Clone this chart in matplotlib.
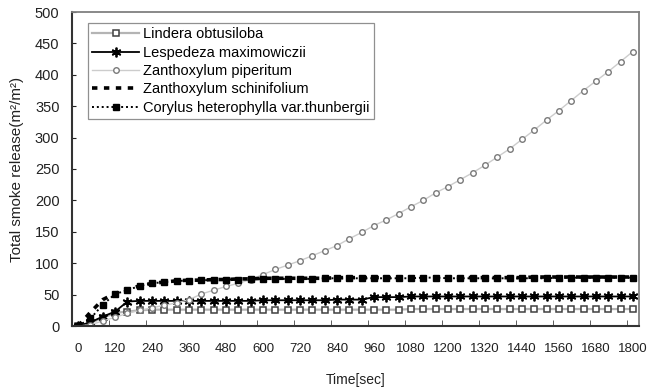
import numpy as np
import matplotlib.pyplot as plt

plt.rcParams['font.family'] = ['Liberation Sans', 'DejaVu Sans']

# measurements every 40 s
time_sec = np.arange(0, 1801, 40)

lindera = [0, 5, 13, 21, 23, 25, 26, 26, 26, 26, 26, 26, 26, 26, 26, 26,
           26, 26, 26, 26, 26, 26, 26, 26, 26, 26, 26, 27, 27, 27, 27, 27,
           27, 27, 27, 27, 27, 27, 27, 27, 27, 27, 27, 27, 27, 27]

lespedeza = [0, 6, 15, 23, 39, 40, 40, 40, 40, 40, 40, 40, 40, 40, 40, 41,
             41, 41, 41, 41, 41, 42, 42, 42, 46, 46, 46, 47, 47, 47, 47, 47,
             47, 47, 47, 47, 47, 47, 47, 47, 47, 47, 47, 47, 47, 47]

piperitum = [0, 2, 8, 14, 20, 25, 29, 33, 37, 42, 51, 57, 63, 68, 74, 82,
             90, 97, 104, 112, 120, 128, 139, 149, 160, 169, 179, 190, 200, 212, 222, 233,
             244, 256, 269, 282, 297, 312, 328, 343, 359, 375, 390, 405, 421, 437]

schinifolium = [0, 22, 42, 52, 58, 64, 68, 70, 72, 73, 73, 74, 74, 75, 75, 76,
                76, 76, 76, 76, 76, 77, 77, 77, 77, 77, 77, 77, 78, 78, 78, 77,
                77, 77, 77, 77, 77, 78, 78, 78, 78, 78, 78, 78, 78, 78]

corylus = [0, 12, 34, 51, 57, 64, 68, 70, 72, 72, 73, 73, 74, 74, 75, 75,
           75, 75, 75, 75, 76, 76, 76, 76, 76, 76, 76, 76, 77, 77, 76, 76,
           76, 76, 76, 76, 76, 76, 76, 77, 77, 77, 77, 77, 77, 77]

names = ['Lindera obtusiloba', 'Lespedeza maximowiczii', 'Zanthoxylum piperitum',
         'Zanthoxylum schinifolium', 'Corylus heterophylla var.thunbergii']

fig = plt.figure(figsize=(6.63, 3.91), dpi=100)
ax = fig.add_axes([72 / 663, 1 - 326 / 391, 567 / 663, 314 / 391])

ax.plot(time_sec, lindera, '-', color='#b4b4b4', lw=1.6, marker='s', ms=4,
        mfc='white', mec='#404040', mew=1.1, label=names[0])
ax.plot(time_sec, lespedeza, '-', color='black', lw=1.3, marker=(6, 2, 0), ms=7,
        mec='black', mew=1.3, label=names[1])
ax.plot(time_sec, piperitum, '-', color='#cccccc', lw=1.0, marker='o', ms=4,
        mfc='white', mec='#7a7a7a', mew=1.0, label=names[2])
ax.plot(time_sec, schinifolium, color='black', lw=2.6, ls=(0, (1.5, 1.8)),
        label=names[3])
ax.plot(time_sec, corylus, color='black', lw=1.4, ls=(0, (1, 1.5)), marker='s', ms=4,
        mfc='black', mec='black', label=names[4])

ax.set_xlim(-20, 1820)
ax.set_ylim(0, 500)
ax.set_xticks(np.arange(0, 1801, 120))
ax.set_xticks(np.arange(100, 1801, 120), minor=True)
ax.set_yticks(np.arange(0, 501, 50))
ax.tick_params(axis='x', which='major', length=0, pad=12, labelsize=9.5, colors='#222222')
ax.tick_params(axis='x', which='minor', direction='in', length=4, color='#444444')
ax.tick_params(axis='y', direction='in', length=3, pad=9, labelsize=10.5, colors='#222222')

for side in ['left', 'bottom']:
    ax.spines[side].set_color('#333333')
    ax.spines[side].set_linewidth(1.5)
for side in ['top', 'right']:
    ax.spines[side].set_color('#808080')
    ax.spines[side].set_linewidth(1.3)

ax.set_xlabel('Time[sec]', fontsize=10, labelpad=13, color='#222222')
ax.set_ylabel('Total smoke release(m²/m²)', fontsize=11, labelpad=8, color='#222222')

leg = ax.legend(loc='upper left', bbox_to_anchor=(0.028, 0.965), borderaxespad=0,
                fancybox=False, edgecolor='#909090', framealpha=1, fontsize=10.5,
                handlelength=3.2, handletextpad=0.3, labelspacing=0.3,
                borderpad=0.3)
leg.get_frame().set_linewidth(0.9)

fig.savefig('out.png', dpi=100)
